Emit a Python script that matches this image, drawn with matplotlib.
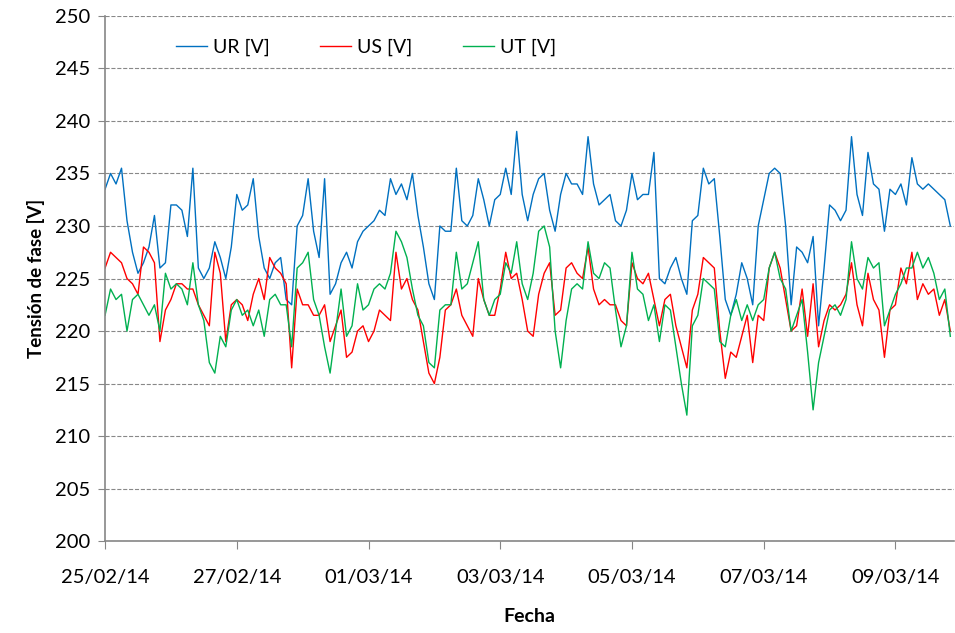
# Tensión de fase UR / US / UT, 25/02/14 - 10/03/14

import datetime as dt
import numpy as np
import matplotlib.pyplot as plt
import matplotlib.dates as mdates

# =============================================================================
# Datos, un valor cada 2 horas desde 25/02/14 00:00
inicio = dt.datetime(2014, 2, 25)
paso_h = 2

ur = [233.5, 235, 234, 235.5, 230.5, 227.5, 225.5, 226.5, 228, 231,
      226, 226.5, 232, 232, 231.5, 229, 235.5, 226, 225, 226,
      228.5, 227, 225, 228, 233, 231.5, 232, 234.5, 229, 226,
      225, 226.5, 227, 223, 222.5, 230, 231, 234.5, 229.5, 227,
      234.5, 223.5, 224.5, 226.5, 227.5, 226, 228.5, 229.5, 230, 230.5,
      231.5, 231, 234.5, 233, 234, 232.5, 235, 231, 228, 224.5,
      223, 230, 229.5, 229.5, 235.5, 230.5, 230, 231, 234.5, 232.5,
      230, 232.5, 233, 235.5, 233, 239, 233, 230.5, 233, 234.5,
      235, 231.5, 229.5, 233, 235, 234, 234, 233, 238.5, 234,
      232, 232.5, 233, 230.5, 230, 231.5, 235, 232.5, 233, 233,
      237, 225, 224.5, 226, 227, 225, 223.5, 230.5, 231, 235.5,
      234, 234.5, 229, 223, 221.5, 223.5, 226.5, 225, 222.5, 230,
      232.5, 235, 235.5, 235, 230, 222.5, 228, 227.5, 226.5, 229,
      220.5, 226, 232, 231.5, 230.5, 231.5, 238.5, 233, 231, 237,
      234, 233.5, 229.5, 233.5, 233, 234, 232, 236.5, 234, 233.5,
      234, 233.5, 233, 232.5, 230]

us = [226, 227.5, 227, 226.5, 225, 224.5, 223.5, 228, 227.5, 226.5,
      219, 222, 223, 224.5, 224.5, 224, 224, 222.5, 221.5, 220.5,
      227.5, 225.5, 219, 222.5, 223, 222.5, 221, 223.5, 225, 223,
      227, 226, 225.5, 224.5, 216.5, 224, 222.5, 222.5, 221.5, 221.5,
      222.5, 219, 220.5, 222, 217.5, 218, 220, 220.5, 219, 220,
      222, 221.5, 221, 227.5, 224, 225, 223, 222, 219, 216,
      215, 217.5, 222, 222.5, 224, 221.5, 220.5, 219.5, 225, 223,
      221.5, 221.5, 224, 227.5, 225, 225.5, 223, 220, 219.5, 223.5,
      225.5, 226.5, 221.5, 222, 226, 226.5, 225.5, 225, 228, 224,
      222.5, 223, 222.5, 222.5, 221, 220.5, 226.5, 225, 224.5, 225.5,
      223, 220.5, 223, 223.5, 220.5, 218.5, 216.5, 222, 223.5, 227,
      226.5, 226, 220, 215.5, 218, 217.5, 219.5, 221.5, 217, 221.5,
      221, 226, 227.5, 226, 223, 220, 220.5, 224, 219.5,
      224.5, 218.5, 221, 222.5, 222, 222.5, 223.5, 226.5, 222.5, 220.5,
      225.5, 223, 222, 217.5, 222, 222.5, 226, 224.5, 227.5, 223,
      224.5, 223.5, 224, 221.5, 223, 220]

ut = [221.5, 224, 223, 223.5, 220, 223, 223.5, 222.5, 221.5, 222.5,
      220, 225.5, 224, 224.5, 224, 222.5, 226.5, 222.5, 221, 217,
      216, 219.5, 218.5, 222, 223, 221.5, 222, 220.5, 222, 219.5,
      223, 223.5, 222.5, 222.5, 218.5, 226, 226.5, 227.5, 223, 221.5,
      218.5, 216, 220, 224, 219.5, 220.5, 224.5, 222, 222.5, 224,
      224.5, 224, 225.5, 229.5, 228.5, 227, 224, 221.5, 220.5, 217,
      216.5, 222, 222.5, 222.5, 227.5, 224, 224.5, 226.5, 228.5, 223,
      221.5, 223, 223.5, 226.5, 225.5, 228.5, 224.5, 223, 225.5, 229.5,
      230, 228, 220, 216.5, 221, 224, 224.5, 224, 228.5, 225.5,
      225, 226.5, 226, 222, 218.5, 220.5, 227.5, 224, 223.5, 221,
      222.5, 219, 222.5, 222, 218.5, 215, 212, 220.5, 221.5, 225,
      224.5, 224, 219, 218.5, 221.5, 223, 221, 222.5, 221, 222.5,
      223, 226, 227.5, 225, 224, 220, 221.5, 223, 218, 212.5,
      217, 219.5, 222, 222.5, 221.5, 223, 228.5, 225, 224, 227,
      226, 226.5, 220.5, 222, 223.5, 224.5, 226, 226, 227.5, 226,
      227, 225.5, 223, 224, 219.5]

series = ['UR [V]', 'US [V]', 'UT [V]']
colores = ['#0070C0', '#FF0000', '#00B050']
yticks = np.arange(200, 251, 5)
# marcas del eje x cada dos días
xticks = [inicio + dt.timedelta(days=2 * k) for k in range(7)]
# =============================================================================

fechas = [inicio + dt.timedelta(hours=paso_h * k) for k in range(len(ur))]

plt.rcParams['font.family'] = ['Lato', 'DejaVu Sans']
fig = plt.figure(figsize=(9.55, 6.33), dpi=100)
ax = fig.add_axes([0.110, 0.145, 0.889, 0.830])

for datos, nombre, c in zip([ur, us, ut], series, colores):
    ax.plot(fechas, datos, color=c, linewidth=1.0, label=nombre)

# ejes
ax.set_ylim(200, 250)
ax.set_yticks(yticks)
ax.set_xlim(inicio, inicio + dt.timedelta(days=12.89))
ax.set_xticks(xticks)
ax.xaxis.set_major_formatter(mdates.DateFormatter('%d/%m/%y'))

ax.grid(axis='y', linestyle='--', color='#888888', linewidth=0.8)
ax.set_axisbelow(True)
for lado in ['top', 'right']:
    ax.spines[lado].set_visible(False)
for lado in ['left', 'bottom']:
    ax.spines[lado].set_color('#868686')
    ax.spines[lado].set_linewidth(1.2)
ax.tick_params(axis='both', colors='#868686', labelcolor='black', labelsize=14.5)
ax.tick_params(axis='x', length=6, pad=14)
ax.tick_params(axis='y', length=5, pad=6)

ax.set_xlabel('Fecha', fontsize=14, fontweight='bold', labelpad=16)
ax.set_ylabel('Tensión de fase [V]', fontsize=13.5, fontweight='bold', labelpad=7)

ax.legend(loc='upper left', bbox_to_anchor=(0.063, 0.99), ncol=3,
          frameon=False, fontsize=14, handlelength=1.6, handletextpad=0.3,
          columnspacing=2.6)

plt.savefig('out.png', dpi=100)
